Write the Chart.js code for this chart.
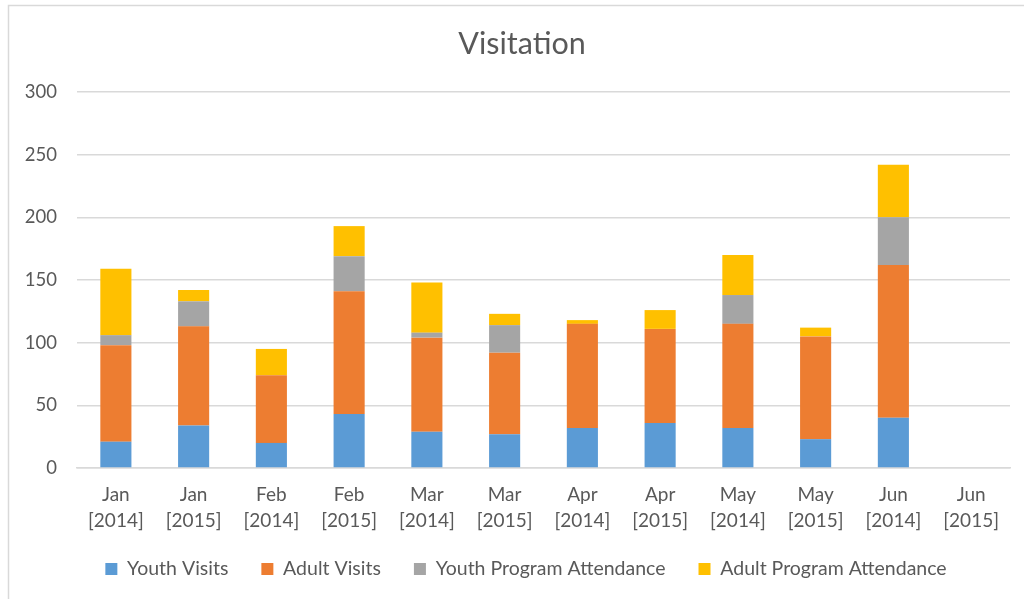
<!DOCTYPE html>
<html>
<head>
<meta charset="utf-8">
<script src="https://cdn.jsdelivr.net/npm/chart.js@4"></script>
<style>
  html, body { margin: 0; padding: 0; background: #fff; }
  #wrap { position: relative; width: 1024px; height: 599px; }
</style>
</head>
<body>
<div id="wrap"><canvas id="visitChart"></canvas></div>
<script>
// Chart data
const months = ['Jan', 'Jan', 'Feb', 'Feb', 'Mar', 'Mar', 'Apr', 'Apr', 'May', 'May', 'Jun', 'Jun'];
const years = ['[2014]', '[2015]', '[2014]', '[2015]', '[2014]', '[2015]', '[2014]', '[2015]', '[2014]', '[2015]', '[2014]', '[2015]'];
const youthVisits = [21, 34, 20, 43, 29, 27, 32, 36, 32, 23, 40, 0];
const adultVisits = [77, 79, 54, 98, 75, 65, 83, 75, 83, 82, 122, 0];
const youthProgram = [8, 20, 0, 28, 4, 22, 0, 0, 23, 0, 38, 0];
const adultProgram = [53, 9, 21, 24, 40, 9, 3, 15, 32, 7, 42, 0];
const yTicks = [0, 50, 100, 150, 200, 250, 300];

const textColor = '#595959';
const gridColor = '#d9d9d9';
const fontFamily = 'Lato, "Open Sans", sans-serif';

// thin frame around the chart like the office export
const framePlugin = {
    id: 'frame',
    beforeDraw(chart) {
        const ctx = chart.ctx;
        ctx.save();
        ctx.strokeStyle = gridColor;
        ctx.lineWidth = 1.5;
        ctx.beginPath();
        ctx.moveTo(8.5, chart.height);
        ctx.lineTo(8.5, 5.5);
        ctx.lineTo(chart.width, 5.5);
        ctx.stroke();
        ctx.restore();
    }
};

// move title and legend a little, the office layout centres them differently
const nudgePlugin = {
    id: 'nudge',
    afterLayout(chart) {
        const shift = (box, dx, dy) => {
            if (!box) return;
            box.left += dx; box.right += dx;
            box.top += dy; box.bottom += dy;
        };
        shift(chart.titleBlock, 17, 0);
        shift(chart.legend, 21, -7.75);
    }
};

const ctx = document.getElementById('visitChart').getContext('2d');
new Chart(ctx, {
    type: 'bar',
    data: {
        labels: months.map((m, i) => [m, years[i]]),
        datasets: [
            { label: 'Youth Visits', data: youthVisits, backgroundColor: '#5B9BD5' },
            { label: 'Adult Visits', data: adultVisits, backgroundColor: '#ED7D31' },
            { label: 'Youth Program Attendance', data: youthProgram, backgroundColor: '#A5A5A5' },
            { label: 'Adult Program Attendance', data: adultProgram, backgroundColor: '#FFC000' }
        ]
    },
    options: {
        responsive: true,
        maintainAspectRatio: false,
        animation: false,
        barPercentage: 0.4,
        categoryPercentage: 1,
        layout: { padding: { left: 0, right: 14, top: 0, bottom: 2.5 } },
        plugins: {
            title: {
                display: true,
                text: 'Visitation',
                color: textColor,
                font: { family: fontFamily, size: 30.5, weight: 'normal' },
                padding: { top: 25.7, bottom: 29.7 }
            },
            legend: {
                position: 'bottom',
                labels: {
                    color: textColor,
                    font: { family: fontFamily, size: 19.5 },
                    boxWidth: 12,
                    boxHeight: 12,
                    padding: 33
                }
            },
            tooltip: { enabled: false }
        },
        scales: {
            x: {
                stacked: true,
                afterFit: (scale) => { scale.height = 66; },
                grid: { display: false, drawTicks: false },
                border: { color: gridColor, width: 1.5 },
                ticks: {
                    color: textColor,
                    font: { family: fontFamily, size: 19, lineHeight: 1.37 },
                    maxRotation: 0,
                    autoSkip: false,
                    padding: 14
                }
            },
            y: {
                stacked: true,
                min: 0,
                max: 300,
                afterFit: (scale) => { scale.width = 77; },
                afterBuildTicks: (scale) => { scale.ticks = yTicks.map(v => ({ value: v })); },
                grid: { color: gridColor, lineWidth: 1.5, drawTicks: false },
                border: { display: false },
                ticks: {
                    color: textColor,
                    font: { family: fontFamily, size: 18.5 },
                    padding: 20
                }
            }
        }
    },
    plugins: [framePlugin, nudgePlugin]
});
</script>
</body>
</html>
